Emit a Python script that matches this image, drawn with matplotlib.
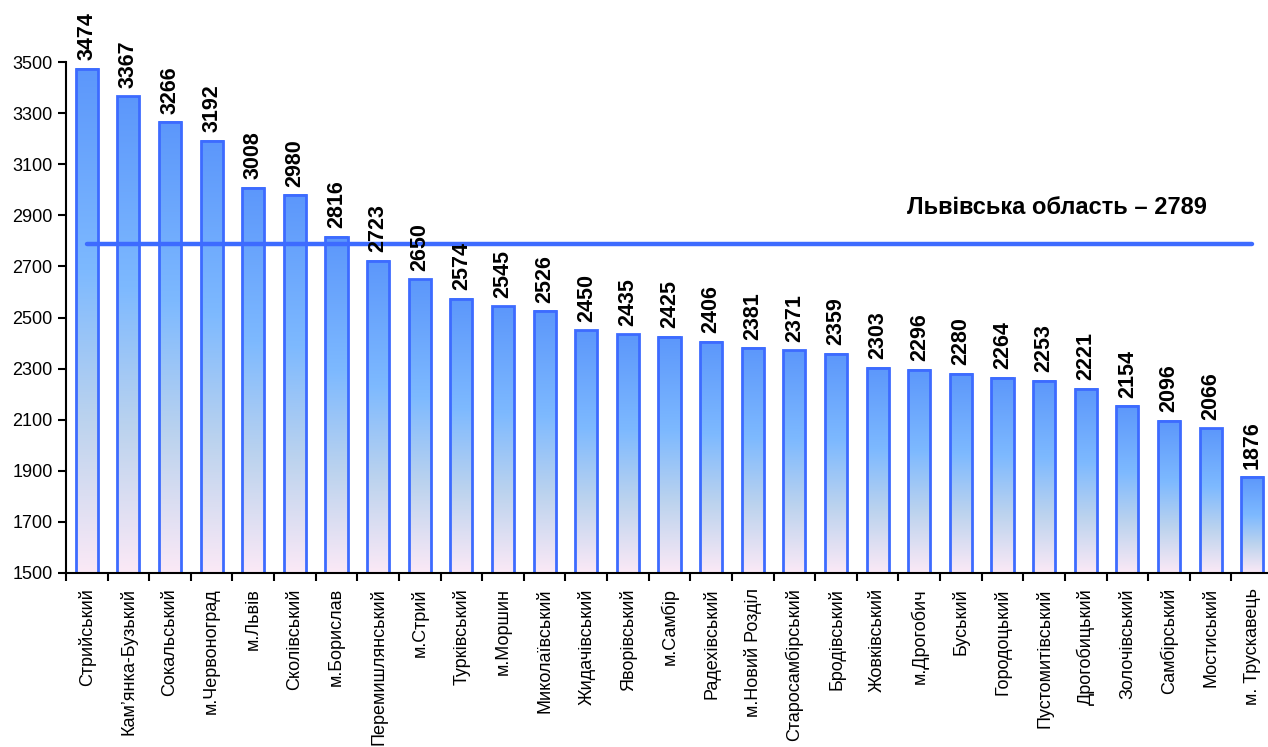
import numpy as np
import matplotlib
matplotlib.use("Agg")
import matplotlib.pyplot as plt
from matplotlib.colors import LinearSegmentedColormap

plt.rcParams['font.family'] = ['Liberation Sans', 'DejaVu Sans']

# Дані
райони = ["Стрийський", "Кам’янка-Бузький", "Сокальський", "м.Червоноград", "м.Львів",
          "Сколівський", "м.Борислав", "Перемишлянський", "м.Стрий", "Турківський",
          "м.Моршин", "Миколаївський", "Жидачівський", "Яворівський", "м.Самбір",
          "Радехівський", "м.Новий Розділ", "Старосамбірський", "Бродівський", "Жовківський",
          "м.Дрогобич", "Буський", "Городоцький", "Пустомитівський", "Дрогобицький",
          "Золочівський", "Самбірський", "Мостиський", "м. Трускавець"]
значення = [3474, 3367, 3266, 3192, 3008, 2980, 2816, 2723, 2650, 2574,
            2545, 2526, 2450, 2435, 2425, 2406, 2381, 2371, 2359, 2303,
            2296, 2280, 2264, 2253, 2221, 2154, 2096, 2066, 1876]
середнє = 2789
підпис_середнього = "Львівська область – 2789"

низ = 1500
ширина = 0.53
x = np.arange(len(райони))

# Градієнт: зверху синій, посередині світло-блакитний, внизу рожевуватий
cmap = LinearSegmentedColormap.from_list(
    "grad", [(0.0, "#fbe9f6"), (0.3, "#bcd3ee"), (0.6, "#7db9ff"), (1.0, "#5c97fb")])
grad = np.linspace(0, 1, 256).reshape(-1, 1)

fig = plt.figure(figsize=(12.68, 7.47), dpi=100)
ax = fig.add_axes([0.052, 0.233, 0.952, 0.767])

for xi, v in zip(x, значення):
    ax.imshow(grad, cmap=cmap, origin="lower", aspect="auto",
              extent=[xi - ширина / 2, xi + ширина / 2, низ, v], zorder=1)
    ax.bar(xi, v - низ, bottom=низ, width=ширина, facecolor="none",
           edgecolor="#3d6bff", linewidth=2.0, zorder=2)
    ax.annotate(str(v), (xi, v), xytext=(0, 6), textcoords="offset points",
                rotation=90, ha="center", va="bottom",
                fontsize=15.5, fontweight="bold", zorder=4)

ax.plot([x[0], x[-1]], [середнє, середнє], color="#3d6bff", linewidth=3.2,
        solid_capstyle="round", zorder=3)
ax.text(x[-1] - 1.1, середнє + 95, підпис_середнього, ha="right", va="bottom",
        fontsize=17, fontweight="bold")

ax.set_xlim(-0.5, len(райони) - 0.5)
ax.set_ylim(низ, 3743)
ax.set_yticks(np.arange(1500, 3501, 200))
ax.tick_params(axis="y", labelsize=13, length=6, width=1.5, direction="out")
ax.spines["left"].set_bounds(1500, 3500)

ax.set_xticks(x)
ax.set_xticklabels(райони, rotation=90, fontsize=13)
ax.tick_params(axis="x", length=0, pad=11)
ax.set_xticks(np.arange(-0.5, len(райони)), minor=True)
ax.tick_params(axis="x", which="minor", length=6, width=1.5, direction="out")

for s in ["top", "right"]:
    ax.spines[s].set_visible(False)
for s in ["left", "bottom"]:
    ax.spines[s].set_linewidth(1.5)

fig.savefig("out.png", dpi=100)
